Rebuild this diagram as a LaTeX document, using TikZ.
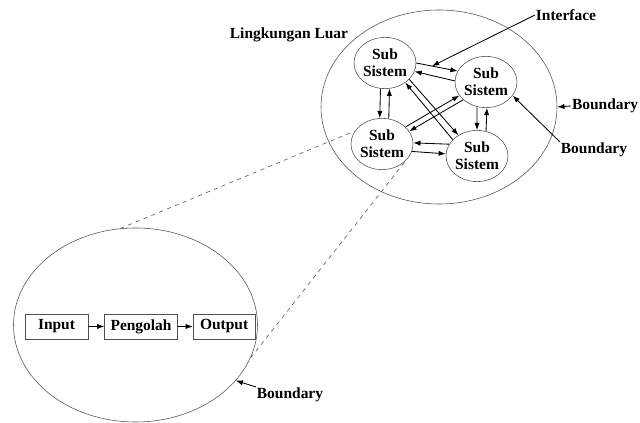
\documentclass[tikz,border=0pt]{standalone}
\usepackage{fontspec}
\setmainfont{Liberation Serif}
\usepackage{tikz}
\usetikzlibrary{shapes.geometric,arrows.meta,positioning,calc}
\definecolor{linegray}{RGB}{80,80,80}

\begin{document}
\begin{tikzpicture}[
    font=\fontsize{11}{12}\selectfont\bfseries,
    subsys/.style={draw=linegray, ellipse, inner sep=0pt, minimum width=1.55cm, minimum height=1.28cm, align=center},
    envelope/.style={draw=linegray, ellipse, inner sep=0pt},
    procbox/.style={draw=linegray, rectangle, minimum height=0.625cm, inner sep=0pt},
    tag/.style={inner sep=0.5pt},
    arr/.style={-{Latex[length=1.8mm,width=1.3mm]}, semithick},
    zoomline/.style={draw=linegray, dashed}
]
    \useasboundingbox (0,0) rectangle (16,10.575);

    % --- Top right: system in its environment ---
    \node[envelope, minimum width=5.9cm, minimum height=4.85cm] (sys) at (10.975,7.9) {};
    \node (lluar) at (7.225,9.7) {Lingkungan Luar};
    \node[subsys] (ss1) at (9.625,9.0) {Sub\\Sistem};
    \node[subsys] (ss2) at (12.15,8.525) {Sub\\Sistem};
    \node[subsys] (ss3) at (9.55,6.975) {Sub\\Sistem};
    \node[subsys] (ss4) at (11.925,6.675) {Sub\\Sistem};

    \draw[arr] (ss1.0) -- (ss2.159);
    \draw[arr] (ss2.178) -- (ss1.-16);
    \draw[arr] (ss1.-100) -- (ss3.95);
    \draw[arr] (ss3.75) -- (ss1.-80);
    \draw[arr] (ss4.146) -- (ss1.-44);
    \draw[arr] (ss1.-34) -- (ss4.132);
    \draw[arr] (ss3.36) -- (ss2.-153);
    \draw[arr] (ss2.-142) -- (ss3.25);
    \draw[arr] (ss2.-110) -- (ss4.90);
    \draw[arr] (ss4.70) -- (ss2.-88);
    \draw[arr] (ss4.157) -- (ss3.2);
    \draw[arr] (ss3.-14) -- (ss4.176);

    % --- Labels with pointers ---
    \coordinate (ifpt) at ($(ss1.0)!0.38!(ss2.159)$);
    \node[tag] (iface) at (14.15,10.2) {Interface};
    \node[tag, anchor=east] (bnd1) at (15.98,7.925) {Boundary};
    \node[tag] (bnd2) at (14.85,6.825) {Boundary};
    \draw[arr] (iface.west) -- (ifpt);
    \draw[arr] (bnd1.west) -- (sys.east);
    \draw[arr] (bnd2.north west) -- (ss2.-27);

    % --- Bottom left: inside one sub system ---
    \node[envelope, minimum width=6.1cm, minimum height=4.85cm] (low) at (3.3875,2.45) {};
    \node[procbox, minimum width=1.575cm] (input) at (1.4125,2.4125) {Input};
    \node[procbox, minimum width=1.825cm, right=0.4cm of input] (pengolah) {Pengolah};
    \node[procbox, minimum width=1.55cm, right=0.375cm of pengolah] (output) {Output};
    \draw[arr] (input) -- (pengolah);
    \draw[arr] (pengolah) -- (output);

    \node[tag] (bnd3) at (7.25,0.7) {Boundary};
    \draw[arr] (bnd3.north west) -- (low.-29);

    % --- Zoom lines ---
    \draw[zoomline] (low.99) -- (ss3.154);
    \draw[zoomline] (low.-16) -- (ss3.-37);
\end{tikzpicture}
\end{document}
